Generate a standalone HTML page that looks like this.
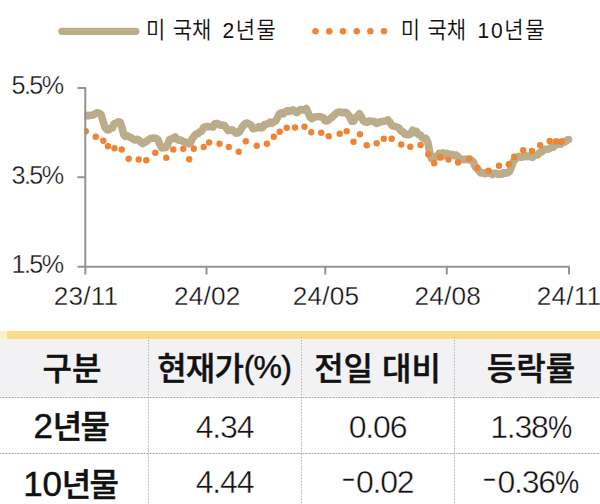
<!DOCTYPE html>
<html lang="ko">
<head>
<meta charset="utf-8">
<title>미 국채 금리</title>
<style>
html,body{margin:0;padding:0;background:#fff;}
body{width:600px;height:504px;overflow:hidden;position:relative;
  font-family:"Liberation Sans","Noto Sans CJK KR",sans-serif;color:#111;}
#wrap{position:absolute;left:0;top:0;width:600px;height:504px;overflow:hidden;background:#fff;}
.chart{position:absolute;left:0;top:0;}
.t{position:absolute;white-space:nowrap;line-height:1;}
.lg{font-size:21px;top:19px;word-spacing:1.6px;font-weight:350;transform:scaleY(1.09);transform-origin:0 50%;}
.lg b{font-weight:inherit;margin-left:3.7px;letter-spacing:1.5px;}
.lg b.w{margin-left:4px;letter-spacing:1.7px;}
.yl{font-size:25.2px;left:0;width:62.5px;text-align:right;letter-spacing:-1.6px;-webkit-text-stroke:0.35px #fff;}
.xl{font-size:26.2px;width:90px;text-align:center;letter-spacing:0.2px;top:283.3px;-webkit-text-stroke:0.35px #fff;}
.band{position:absolute;left:0;top:331.3px;width:600px;height:7.8px;background:#F9DB89;}
.band i{position:absolute;left:0;top:0;width:7px;height:8px;background:#FDF0C6;display:block;}
.hbg{position:absolute;left:0;top:339.1px;width:600px;height:57px;background:#F2F2F4;}
.hl{position:absolute;left:0;width:600px;height:1px;
  background:repeating-linear-gradient(to right,#9c9c9c 0 1px,#d6d6d6 1px 3px);}
.vl{position:absolute;top:337px;width:1px;height:167px;
  background:repeating-linear-gradient(to bottom,#b2b2b2 0 1px,#e6e6e6 1px 3px);}
.c{position:absolute;text-align:center;white-space:nowrap;line-height:1;}
.h{font-weight:500;font-size:32px;top:353px;-webkit-text-stroke:0.45px #111;}
.h.c2{letter-spacing:-0.9px;margin-left:-0.3px;}
.pc{letter-spacing:-0.8px;margin-left:0.8px;position:relative;top:-2px;}
.rl{font-weight:500;font-size:32px;-webkit-text-stroke:0.45px #111;letter-spacing:-1.5px;}
.rl i{font-style:normal;font-size:35px;line-height:0;letter-spacing:-0.3px;}
.n{font-size:32px;-webkit-text-stroke:0.45px #fff;letter-spacing:-1.2px;}
.m{display:inline-block;transform:scaleX(1.45);margin:0 4px 0 1px;position:relative;top:-5px;}
.c1{left:-4px;width:152px;}
.c2{left:148px;width:153px;}
.c3{left:301px;width:153px;}
.c4{left:454px;width:154px;}
.n.c4{letter-spacing:-1.2px;}
.p{display:inline-block;transform:scaleX(0.85);transform-origin:0 50%;margin-right:-4.3px;letter-spacing:0;-webkit-text-stroke:0.25px #fff;}
</style>
</head>
<body>
<div id="wrap">
<svg class="chart" width="600" height="330" viewBox="0 0 600 330">
<defs><clipPath id="pc"><rect x="84.4" y="60" width="520" height="207"/></clipPath></defs>
<g clip-path="url(#pc)">
<polyline points="85.8,115.8 87.7,115.4 89.6,115.6 91.5,115.1 93.4,114.9 95.3,113.6 97.2,112.8 99.1,113.2 101.0,114.4 102.9,120.6 104.8,127.0 106.7,129.6 108.6,130.0 110.5,128.1 112.4,128.0 114.3,123.6 116.2,123.1 118.1,121.7 120.0,122.1 121.9,127.1 123.8,134.9 125.7,136.5 127.6,135.9 129.5,137.0 131.4,137.7 133.3,139.1 135.2,140.0 137.1,139.3 139.0,140.2 140.9,142.3 142.8,143.7 144.7,142.4 146.6,141.3 148.5,139.7 150.4,138.6 152.3,138.3 154.2,138.0 156.1,138.4 158.0,139.8 159.9,144.5 161.8,148.0 163.7,147.6 165.6,147.8 167.5,144.8 169.4,139.8 171.3,138.7 173.2,138.5 175.1,136.9 177.0,139.0 178.9,140.1 180.8,140.0 182.7,141.2 184.6,142.0 186.5,142.4 188.4,143.8 190.3,143.0 192.2,138.7 194.1,136.2 196.0,134.2 197.9,133.6 199.8,132.0 201.7,131.1 203.6,127.5 205.5,126.7 207.4,126.6 209.3,126.8 211.2,126.7 213.1,127.0 215.0,123.7 216.9,123.4 218.8,124.3 220.7,125.2 222.6,125.1 224.5,125.7 226.4,128.2 228.3,130.6 230.2,130.3 232.1,129.7 234.0,131.2 235.9,133.1 237.8,133.0 239.7,131.6 241.6,127.9 243.5,125.4 245.4,123.4 247.3,123.0 249.2,124.0 251.1,125.2 253.0,128.7 254.9,128.5 256.8,127.9 258.7,126.7 260.6,127.9 262.5,127.5 264.4,124.7 266.3,124.1 268.2,123.7 270.1,122.1 272.0,123.3 273.9,121.9 275.8,120.7 277.7,117.2 279.6,113.6 281.5,112.9 283.4,113.8 285.3,111.8 287.2,110.6 289.1,111.4 291.0,110.8 292.9,109.8 294.8,111.0 296.7,112.7 298.6,111.4 300.5,109.5 302.4,109.9 304.3,109.9 306.2,108.5 308.1,112.7 310.0,116.9 311.9,118.7 313.8,117.4 315.7,116.7 317.6,116.8 319.5,116.6 321.4,117.0 323.3,117.7 325.2,120.8 327.1,120.9 329.0,119.8 330.9,118.0 332.8,116.6 334.7,114.8 336.6,113.0 338.5,112.1 340.4,112.0 342.3,112.8 344.2,112.3 346.1,112.6 348.0,114.4 349.9,117.2 351.8,121.3 353.7,121.3 355.6,117.5 357.5,116.2 359.4,113.7 361.3,116.6 363.2,120.8 365.1,121.9 367.0,122.5 368.9,121.1 370.8,121.3 372.7,121.5 374.6,121.5 376.5,123.5 378.4,122.7 380.3,121.8 382.2,121.7 384.1,121.2 386.0,120.9 387.9,119.9 389.8,122.1 391.7,125.2 393.6,126.1 395.5,126.7 397.4,127.2 399.3,128.3 401.2,131.1 403.1,132.0 405.0,134.2 406.9,134.6 408.8,134.6 410.7,133.7 412.6,130.2 414.5,132.3 416.4,131.5 418.3,134.5 420.2,134.9 422.1,137.3 424.0,138.5 425.9,138.4 427.8,142.4 429.7,151.9 431.6,158.7 433.5,158.5 435.4,156.5 437.3,156.8 439.2,153.4 441.1,156.9 443.0,153.0 444.9,155.4 446.8,153.3 448.7,154.3 450.6,154.4 452.5,154.5 454.4,155.7 456.3,155.1 458.2,157.0 460.1,158.6 462.0,159.5 463.9,159.7 465.8,159.0 467.7,159.8 469.6,159.0 471.5,160.3 473.4,162.2 475.3,167.1 477.2,168.7 479.1,171.1 481.0,173.0 482.9,172.7 484.8,173.7 486.7,173.0 488.6,173.2 490.5,173.0 492.4,174.6 494.3,173.4 496.2,173.3 498.1,174.4 500.0,174.1 501.9,174.3 503.8,172.5 505.7,173.3 507.6,172.8 509.5,171.6 511.4,167.1 513.3,161.6 515.2,159.4 517.1,157.0 519.0,156.4 520.9,157.2 522.8,156.9 524.7,154.9 526.6,156.7 528.5,156.0 530.4,156.9 532.3,157.4 534.2,155.7 536.1,155.2 538.0,154.7 539.9,152.2 541.8,152.0 543.7,150.0 545.6,149.4 547.5,149.2 549.4,148.8 551.3,147.0 553.2,147.3 555.1,145.1 557.0,144.7 558.9,143.4 560.8,144.2 562.7,142.1 564.6,142.0 566.5,140.7 568.4,139.5 568.5,139.5" fill="none" stroke="#BBAC8A" stroke-width="7.6" stroke-linejoin="round" stroke-linecap="round"/>
<g fill="#EF8432">
<circle cx="85.8" cy="131.2" r="3.2"/>
<circle cx="95.8" cy="136.7" r="3.2"/>
<circle cx="103.3" cy="140.8" r="3.2"/>
<circle cx="108.0" cy="146.2" r="3.2"/>
<circle cx="114.5" cy="148.3" r="3.2"/>
<circle cx="121.7" cy="149.5" r="3.2"/>
<circle cx="128.7" cy="158.7" r="3.2"/>
<circle cx="138.7" cy="159.5" r="3.2"/>
<circle cx="146.3" cy="160.3" r="3.2"/>
<circle cx="155.3" cy="152.8" r="3.2"/>
<circle cx="166.3" cy="157.8" r="3.2"/>
<circle cx="173.3" cy="149.5" r="3.2"/>
<circle cx="183.3" cy="148.7" r="3.2"/>
<circle cx="189.2" cy="159.2" r="3.2"/>
<circle cx="193.8" cy="148.7" r="3.2"/>
<circle cx="203.7" cy="147.0" r="3.2"/>
<circle cx="209.2" cy="142.5" r="3.2"/>
<circle cx="219.5" cy="143.7" r="3.2"/>
<circle cx="228.8" cy="147.0" r="3.2"/>
<circle cx="238.7" cy="151.7" r="3.2"/>
<circle cx="245.8" cy="141.2" r="3.2"/>
<circle cx="256.7" cy="145.8" r="3.2"/>
<circle cx="267.0" cy="143.7" r="3.2"/>
<circle cx="273.8" cy="136.7" r="3.2"/>
<circle cx="279.7" cy="131.7" r="3.2"/>
<circle cx="286.7" cy="127.8" r="3.2"/>
<circle cx="295.0" cy="127.5" r="3.2"/>
<circle cx="304.5" cy="126.7" r="3.2"/>
<circle cx="311.3" cy="132.2" r="3.2"/>
<circle cx="321.2" cy="132.8" r="3.2"/>
<circle cx="328.7" cy="136.3" r="3.2"/>
<circle cx="339.7" cy="133.8" r="3.2"/>
<circle cx="346.7" cy="131.2" r="3.2"/>
<circle cx="353.5" cy="141.7" r="3.2"/>
<circle cx="360.0" cy="134.2" r="3.2"/>
<circle cx="366.7" cy="145.3" r="3.2"/>
<circle cx="376.7" cy="143.3" r="3.2"/>
<circle cx="383.8" cy="138.7" r="3.2"/>
<circle cx="391.7" cy="138.7" r="3.2"/>
<circle cx="401.2" cy="144.5" r="3.2"/>
<circle cx="410.3" cy="146.7" r="3.2"/>
<circle cx="420.6" cy="145.0" r="3.2"/>
<circle cx="428.3" cy="154.2" r="3.2"/>
<circle cx="434.2" cy="163.2" r="3.2"/>
<circle cx="440.2" cy="157.3" r="3.2"/>
<circle cx="448.5" cy="159.6" r="3.2"/>
<circle cx="458.0" cy="162.5" r="3.2"/>
<circle cx="469.2" cy="158.7" r="3.2"/>
<circle cx="477.5" cy="168.0" r="3.2"/>
<circle cx="488.5" cy="170.8" r="3.2"/>
<circle cx="499.0" cy="165.8" r="3.2"/>
<circle cx="508.8" cy="164.2" r="3.2"/>
<circle cx="514.2" cy="156.7" r="3.2"/>
<circle cx="523.2" cy="150.3" r="3.2"/>
<circle cx="532.0" cy="151.0" r="3.2"/>
<circle cx="540.2" cy="145.2" r="3.2"/>
<circle cx="549.7" cy="141.0" r="3.2"/>
<circle cx="556.1" cy="141.2" r="3.2"/>
<circle cx="561.5" cy="141.4" r="3.2"/>
</g>
</g>
<g stroke="#939393" stroke-width="2" fill="none" stroke-linecap="butt">
<path d="M85.3 87 V274.5"/>
<path d="M77.5 266.8 H570"/>
<path d="M77.5 88 H85.3 M77.5 177.3 H85.3"/>
<path d="M206.5 266.8 V274.5 M325.3 266.8 V274.5 M446.8 266.8 V274.5 M569 266.8 V274.5"/>
</g>
<path d="M61.8 31.3 H135.8" stroke="#BBAC8A" stroke-width="7.2" stroke-linecap="round" fill="none"/>
<g fill="#EF8432">
<circle cx="315.50" cy="31.2" r="3.25"/>
<circle cx="329.25" cy="31.2" r="3.25"/>
<circle cx="343.00" cy="31.2" r="3.25"/>
<circle cx="356.75" cy="31.2" r="3.25"/>
<circle cx="370.40" cy="31.2" r="3.25"/>
<circle cx="384.00" cy="31.2" r="3.25"/>
</g>
</svg>
<span class="t lg" style="left:146px">미 국채 <b>2년물</b></span>
<span class="t lg" style="left:400.7px">미 국채 <b class="w">10년물</b></span>
<span class="t yl" style="top:73px">5.5%</span>
<span class="t yl" style="top:163px">3.5%</span>
<span class="t yl" style="top:252.2px">1.5%</span>
<span class="t xl" style="left:41px">23/11</span>
<span class="t xl" style="left:162.3px">24/02</span>
<span class="t xl" style="left:281px">24/05</span>
<span class="t xl" style="left:402.8px">24/08</span>
<span class="t xl" style="left:524px">24/11</span>

<div class="band"><i></i></div>
<div class="hbg"></div>
<div class="hl" style="top:397px"></div>
<div class="hl" style="top:453px"></div>
<div class="vl" style="left:148px"></div>
<div class="vl" style="left:301px"></div>
<div class="vl" style="left:454px"></div>

<div class="c h c1">구분</div>
<div class="c h c2">현재가<span class="pc">(%)</span></div>
<div class="c h c3">전일 대비</div>
<div class="c h c4">등락률</div>

<div class="c rl c1" style="top:411px;margin-left:-1px"><i>2</i>년물</div>
<div class="c n c2" style="top:410.5px">4.34</div>
<div class="c n c3" style="top:410.5px">0.06</div>
<div class="c n c4" style="top:410.5px">1.38<span class="p">%</span></div>

<div class="c rl c1" style="top:469px;margin-left:-1.6px"><i>10</i>년물</div>
<div class="c n c2" style="top:466.3px">4.44</div>
<div class="c n c3" style="top:466.3px"><span class="m">-</span>0.02</div>
<div class="c n c4" style="top:466.3px"><span class="m">-</span>0.36<span class="p">%</span></div>
</div>
</body>
</html>
